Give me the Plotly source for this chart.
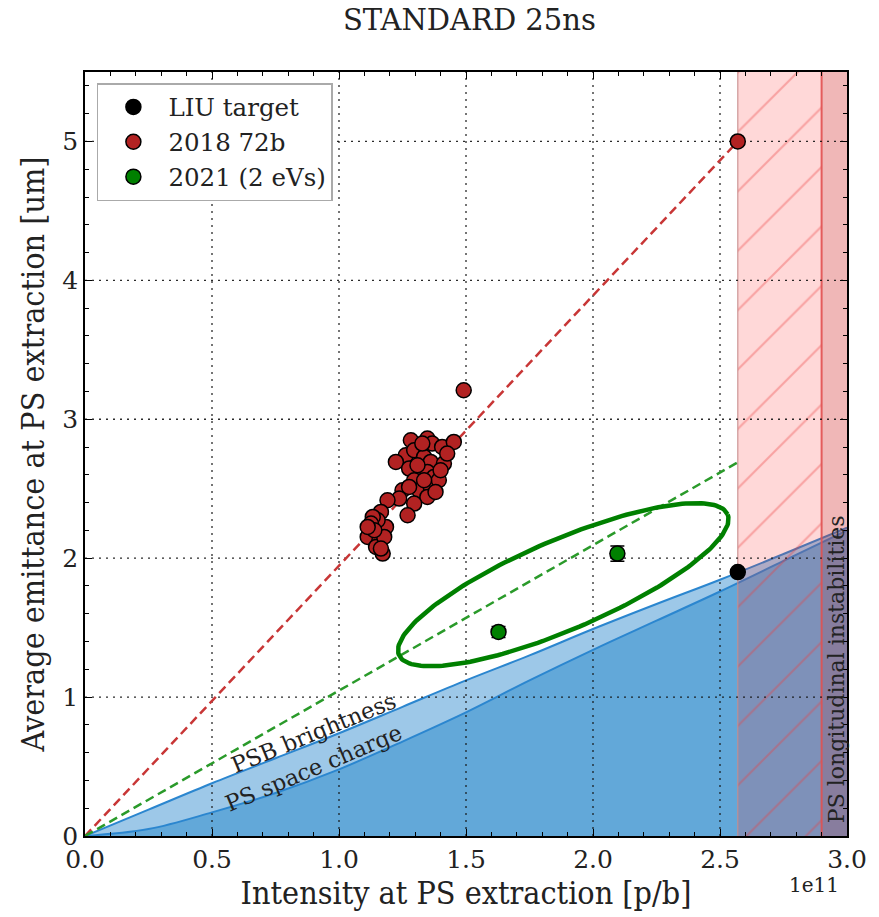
import numpy as np
import plotly.graph_objects as go

# ---------------- data ----------------
E11 = 1e11
# 2018 72b measurements (intensity [1e11 p/b], emittance [um])
red_x = [1.491, 1.283, 1.348, 1.367, 1.406, 1.452, 1.263, 1.224, 1.296, 1.335,
         1.361, 1.413, 1.315, 1.276, 1.348, 1.374, 1.296, 1.315, 1.361, 1.393,
         1.348, 1.250, 1.237, 1.296, 1.270, 1.191, 1.165, 1.185, 1.152, 1.133,
         1.113, 1.159, 1.172, 1.146, 1.126, 1.178, 1.426, 1.328, 1.309, 1.400,
         1.335, 1.380, 1.276, 1.139, 1.165, 1.113, 2.570]
red_y = [3.209, 2.849, 2.861, 2.825, 2.801, 2.837, 2.741, 2.693, 2.777, 2.729,
         2.693, 2.681, 2.633, 2.645, 2.621, 2.585, 2.561, 2.489, 2.513, 2.561,
         2.441, 2.489, 2.429, 2.393, 2.309, 2.417, 2.333, 2.225, 2.273, 2.297,
         2.153, 2.129, 2.033, 2.081, 2.249, 2.153, 2.753, 2.825, 2.669, 2.633,
         2.561, 2.477, 2.513, 2.201, 2.069, 2.225, 5.000]
# 2021 (2 eVs)
green_x = [1.628, 2.096]
green_y = [1.469, 2.033]
green_err = [0.04, 0.055]
# LIU target
liu_x = [2.57]
liu_y = [1.90]

# limit curves
curve_x = [0, 0.25, 0.5, 0.75, 1.0, 1.25, 1.5, 1.75, 2.0, 2.25, 2.5, 2.75, 3.0]
psb_brightness = [0, 0.19, 0.38, 0.56, 0.74, 0.93, 1.12, 1.30, 1.49, 1.67, 1.845, 2.03, 2.22]
ps_space_charge = [0, 0.05, 0.17, 0.31, 0.48, 0.68, 0.89, 1.12, 1.34, 1.55, 1.76, 1.98, 2.20]

# reference lines from origin
red_line_x = [0, 2.57]
red_line_y = [0, 5.00]
green_line_x = [0, 2.57]
green_line_y = [0, 2.69]

# excluded intensity regions
hatch_region = [2.57, 2.90]
instab_region = [2.90, 3.00]

# ellipse (data units)
ell_center = (1.883, 1.809)
ell_u = (0.647, 0.506)   # semi-major vector
ell_v = (-0.0687, 0.298)  # semi-minor vector

x_ticks = [0, 0.5, 1.0, 1.5, 2.0, 2.5, 3.0]
x_ticktext = ["0.0", "0.5", "1.0", "1.5", "2.0", "2.5", "3.0"]
y_ticks = [0, 1, 2, 3, 4, 5]
X_RANGE = [0, 3.0]
Y_RANGE = [0, 5.5]

# ---------------- figure ----------------
FONT = "DejaVu Serif"
FONT_C = "DejaVu Serif Condensed, DejaVu Serif"
sx = lambda arr: [v * E11 if v is not None else None for v in arr]

fig = go.Figure()

# blue areas
fig.add_trace(go.Scatter(x=sx(curve_x), y=ps_space_charge, mode="lines",
                         line=dict(color="#2b86cf", width=2, shape="spline"),
                         fill="tozeroy", fillcolor="#62a8d9",
                         showlegend=False, hoverinfo="skip"))
fig.add_trace(go.Scatter(x=sx(curve_x), y=psb_brightness, mode="lines",
                         line=dict(color="#2b86cf", width=2, shape="spline"),
                         fill="tonexty", fillcolor="#9dc8e8",
                         showlegend=False, hoverinfo="skip"))

# hatched region
h0, h1 = hatch_region
fig.add_trace(go.Scatter(x=sx([h0, h1, h1, h0, h0]),
                         y=[Y_RANGE[0], Y_RANGE[0], Y_RANGE[1], Y_RANGE[1], Y_RANGE[0]],
                         mode="lines", line=dict(width=0), fill="toself",
                         fillcolor="rgba(255,40,40,0.18)",
                         fillpattern=dict(shape="/", size=42, solidity=0.05,
                                          fgcolor="rgba(235,60,60,0.7)",
                                          bgcolor="rgba(255,40,40,0.18)"),
                         showlegend=False, hoverinfo="skip"))
i0, i1 = instab_region
fig.add_trace(go.Scatter(x=sx([i0, i1, i1, i0, i0]),
                         y=[Y_RANGE[0], Y_RANGE[0], Y_RANGE[1], Y_RANGE[1], Y_RANGE[0]],
                         mode="lines", line=dict(width=0), fill="toself",
                         fillcolor="rgba(210,45,45,0.34)",
                         showlegend=False, hoverinfo="skip"))
fig.add_trace(go.Scatter(x=sx([h0, h0]), y=Y_RANGE, mode="lines",
                         line=dict(color="rgba(200,140,140,0.9)", width=1.2),
                         showlegend=False, hoverinfo="skip"))
fig.add_trace(go.Scatter(x=sx([i0, i0]), y=Y_RANGE, mode="lines",
                         line=dict(color="rgba(225,80,80,0.9)", width=2),
                         showlegend=False, hoverinfo="skip"))

# grid (drawn above fills, below markers)
gx, gy = [], []
for t in x_ticks[1:-1]:
    gx += [t, t, None]
    gy += [Y_RANGE[0], Y_RANGE[1], None]
for t in y_ticks[1:]:
    gx += [X_RANGE[0], X_RANGE[1], None]
    gy += [t, t, None]
fig.add_trace(go.Scatter(x=sx(gx), y=gy, mode="lines",
                         line=dict(color="rgba(20,20,20,0.9)", width=1.3, dash="2px,5px"),
                         showlegend=False, hoverinfo="skip", connectgaps=False))

# dashed reference lines
fig.add_trace(go.Scatter(x=sx(red_line_x), y=red_line_y, mode="lines",
                         line=dict(color="#c83636", width=2.5, dash="9px,5px"),
                         showlegend=False, hoverinfo="skip"))
fig.add_trace(go.Scatter(x=sx(green_line_x), y=green_line_y, mode="lines",
                         line=dict(color="#2a9a2a", width=2.5, dash="9px,5px"),
                         showlegend=False, hoverinfo="skip"))

# ellipse
t = np.linspace(0, 2 * np.pi, 200)
ex = ell_center[0] + np.cos(t) * ell_u[0] + np.sin(t) * ell_v[0]
ey = ell_center[1] + np.cos(t) * ell_u[1] + np.sin(t) * ell_v[1]
fig.add_trace(go.Scatter(x=ex * E11, y=ey, mode="lines",
                         line=dict(color="#008000", width=4.5),
                         showlegend=False, hoverinfo="skip"))

MK = 15
fig.add_trace(go.Scatter(x=sx(liu_x), y=liu_y, mode="markers", name="LIU target",
                         legendgroup="a",
                         marker=dict(color="black", size=MK, line=dict(color="black", width=1.5))))
fig.add_trace(go.Scatter(x=sx(red_x), y=red_y, mode="markers", name="2018 72b",
                         legendgroup="b",
                         marker=dict(color="#b22222", size=MK, line=dict(color="black", width=1.5))))
fig.add_trace(go.Scatter(x=sx(green_x), y=green_y, mode="markers", name="2021 (2 eVs)",
                         legendgroup="c",
                         error_y=dict(type="data", array=green_err, color="black",
                                      thickness=1.5, width=7),
                         marker=dict(color="#008000", size=MK, line=dict(color="black", width=1.5))))

axis_common = dict(showline=True, linecolor="black", linewidth=1.5, mirror="allticks",
                   ticks="inside", ticklen=7, tickwidth=1.2, tickcolor="black",
                   showgrid=False, zeroline=False,
                   tickfont=dict(family=FONT, size=25, color="#222"))

fig.update_xaxes(range=[X_RANGE[0] * E11, X_RANGE[1] * E11],
                 tickmode="array", tickvals=sx(x_ticks), ticktext=x_ticktext,
                 minor=dict(tickmode="linear", tick0=0, dtick=0.1 * E11, ticks="inside",
                            ticklen=4, tickcolor="black", tickwidth=1, showgrid=False),
                 title=dict(text="Intensity at PS extraction [p/b]", standoff=4,
                            font=dict(family=FONT_C, size=32, color="#222")),
                 **axis_common)
fig.update_yaxes(range=Y_RANGE, tickmode="array", tickvals=y_ticks,
                 ticktext=[str(v) for v in y_ticks],
                 minor=dict(tickmode="linear", tick0=0, dtick=0.2, ticks="inside",
                            ticklen=4, tickcolor="black", tickwidth=1, showgrid=False),
                 title=dict(text="Average emittance at PS extraction [um]", standoff=8,
                            font=dict(family=FONT_C, size=32, color="#222")),
                 **axis_common)

fig.add_annotation(x=0.898 * E11, y=0.741, text="PSB brightness", textangle=-22.4,
                   showarrow=False, font=dict(family=FONT, size=22.5, color="#222"))
fig.add_annotation(x=0.898 * E11, y=0.489, text="PS space charge", textangle=-22.9,
                   showarrow=False, font=dict(family=FONT, size=22.5, color="#222"))
fig.add_annotation(x=2.956 * E11, y=1.20, text="PS longitudinal instabilities", textangle=-90,
                   showarrow=False, font=dict(family=FONT, size=22, color="#222"))
fig.add_annotation(xref="paper", yref="paper", x=0.957, y=-0.064, text="1e11",
                   xanchor="center", yanchor="middle",
                   showarrow=False, font=dict(family=FONT, size=20, color="#222"))

fig.update_layout(
    width=879, height=917,
    margin=dict(l=85, r=26, t=72, b=81),
    paper_bgcolor="white", plot_bgcolor="white",
    title=dict(text="STANDARD 25ns", x=0.534, xanchor="center", y=1 - 20 / 917,
               yanchor="middle", yref="container",
               font=dict(family=FONT, size=29, color="#222")),
    legend=dict(x=0.0156, y=0.9856, xanchor="left", yanchor="top",
                bgcolor="white", bordercolor="#aaaaaa", borderwidth=1.5,
                font=dict(family=FONT, size=24.5, color="#222"),
                itemsizing="trace", itemwidth=60, tracegroupgap=7,
                traceorder="normal"),
    showlegend=True,
)

fig.write_html("out.html")
